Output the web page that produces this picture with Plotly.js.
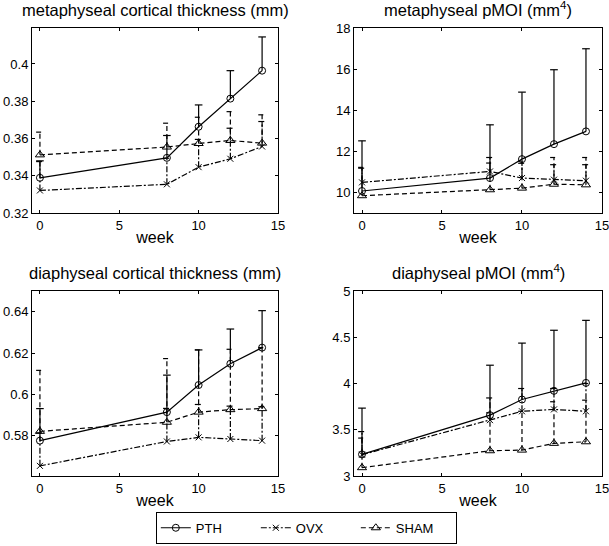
<!DOCTYPE html>
<html>
<head>
<meta charset="utf-8">
<script src="https://cdn.plot.ly/plotly-3.0.1.min.js"></script>
<style>html,body{margin:0;padding:0;background:#fff;}#chart{width:609px;height:546px;}</style>
</head>
<body>
<div id="chart"></div>
<script>
// ---- data ----
const weeks = [0, 8, 10, 12, 14];
const groups = ["PTH", "OVX", "SHAM"];

// metaphyseal cortical thickness (mm)
const mctPTH = [0.3389, 0.3496, 0.3663, 0.3814, 0.3964];
const mctPTHerr = [0.0091, 0.0120, 0.0117, 0.0150, 0.0181];
const mctOVX = [0.3321, 0.3354, 0.3446, 0.3491, 0.3557];
const mctOVXerr = [0.0155, 0.0140, 0.0149, 0.0164, 0.0134];
const mctSHAM = [0.3512, 0.3554, 0.3573, 0.3589, 0.3575];
const mctSHAMerr = [0.0122, 0.0128, 0.0141, 0.0155, 0.0152];

// metaphyseal pMOI (mm^4)
const mpPTH = [10.07, 10.70, 11.62, 12.35, 12.97];
const mpPTHerr = [2.44, 2.59, 3.26, 3.62, 4.02];
const mpOVX = [10.49, 11.02, 10.70, 10.62, 10.57];
const mpOVXerr = [0.69, 0.68, 0.72, 0.73, 0.78];
const mpSHAM = [9.84, 10.13, 10.21, 10.40, 10.37];
const mpSHAMerr = [1.38, 1.30, 1.32, 1.30, 1.33];

// diaphyseal cortical thickness (mm)
const dctPTH = [0.5776, 0.5914, 0.6045, 0.6148, 0.6226];
const dctPTHerr = [0.0155, 0.0179, 0.0170, 0.0168, 0.0179];
const dctOVX = [0.5654, 0.5772, 0.5792, 0.5784, 0.5776];
const dctOVXerr = [0.0160, 0.0160, 0.0159, 0.0159, 0.0164];
const dctSHAM = [0.5821, 0.5865, 0.5914, 0.5926, 0.5931];
const dctSHAMerr = [0.0295, 0.0308, 0.0301, 0.0292, 0.0295];

// diaphyseal pMOI (mm^4)
const dpPTH = [3.234, 3.658, 3.827, 3.921, 4.007];
const dpPTHerr = [0.50, 0.54, 0.61, 0.655, 0.676];
const dpOVX = [3.23, 3.604, 3.70, 3.72, 3.70];
const dpOVXerr = [0.25, 0.24, 0.246, 0.226, 0.30];
const dpSHAM = [3.09, 3.273, 3.28, 3.353, 3.37];
const dpSHAMerr = [0.32, 0.41, 0.42, 0.45, 0.45];

const titles = ["metaphyseal cortical thickness (mm)", "metaphyseal pMOI (mm<sup>4</sup>)",
                "diaphyseal cortical thickness (mm)", "diaphyseal pMOI (mm<sup>4</sup>)"];
const xTickVals = [0, 5, 10, 15];
const yTicksA = [0.32, 0.34, 0.36, 0.38, 0.4];
const yTextA = ["0.32", "0.34", "0.36", "0.38", "0.4"];
const yTicksB = [10, 12, 14, 16, 18];
const yTextB = ["10", "12", "14", "16", "18"];
const yTicksC = [0.58, 0.6, 0.62, 0.64];
const yTextC = ["0.58", "0.6", "0.62", "0.64"];
const yTicksD = [3, 3.5, 4, 4.5, 5];
const yTextD = ["3", "3.5", "4", "4.5", "5"];

// ---- styling ----
const W = 609, H = 546;
const FONT = "Liberation Sans, Arial, Helvetica, sans-serif";
const styles = {
  PTH:  {dash: "solid", symbol: "circle-open", size: 7},
  OVX:  {dash: "6px,2px,2px,2px", symbol: "x-thin-open", size: 6},
  SHAM: {dash: "5px,3px", symbol: "triangle-up-open", size: 8}
};
const CAP = 0.24;

const panels = [
  {series: {PTH: [mctPTH, mctPTHerr], OVX: [mctOVX, mctOVXerr], SHAM: [mctSHAM, mctSHAMerr]},
   yr: [0.32, 0.4193], tv: yTicksA, tt: yTextA, px: [32, 278], py: [28, 213]},
  {series: {PTH: [mpPTH, mpPTHerr], OVX: [mpOVX, mpOVXerr], SHAM: [mpSHAM, mpSHAMerr]},
   yr: [9, 18], tv: yTicksB, tt: yTextB, px: [354, 602], py: [28, 213]},
  {series: {PTH: [dctPTH, dctPTHerr], OVX: [dctOVX, dctOVXerr], SHAM: [dctSHAM, dctSHAMerr]},
   yr: [0.5605, 0.65], tv: yTicksC, tt: yTextC, px: [32, 278], py: [291, 476]},
  {series: {PTH: [dpPTH, dpPTHerr], OVX: [dpOVX, dpOVXerr], SHAM: [dpSHAM, dpSHAMerr]},
   yr: [3, 5.0005], tv: yTicksD, tt: yTextD, px: [354, 602], py: [291, 476]}
];

const traces = [];
const layout = {
  width: W, height: H,
  margin: {l: 0, r: 0, t: 0, b: 0},
  paper_bgcolor: "#fff", plot_bgcolor: "#fff",
  font: {family: FONT, size: 13, color: "#000"},
  showlegend: true,
  legend: {
    orientation: "h", x: 0.503, xanchor: "center", y: 0.004, yanchor: "bottom",
    bordercolor: "#000", borderwidth: 1, bgcolor: "#fff",
    font: {family: FONT, size: 13, color: "#000"},
    entrywidth: 55, entrywidthmode: "pixels", tracegroupgap: 0
  },
  annotations: []
};

panels.forEach((p, i) => {
  const k = i === 0 ? "" : String(i + 1);
  const xa = "x" + k, ya = "y" + k;
  layout["xaxis" + k] = {
    domain: [p.px[0] / W, p.px[1] / W], anchor: ya, range: [-0.5, 15.002],
    tickvals: xTickVals, ticktext: xTickVals.map(String),
    ticks: "inside", ticklen: 3, tickwidth: 1, tickcolor: "#000",
    showline: true, linecolor: "#000", linewidth: 1, mirror: "ticks",
    showgrid: false, zeroline: false, automargin: false, ticklabeloverflow: "allow",
    tickfont: {family: FONT, size: 13, color: "#000"},
    title: {text: "week", font: {family: FONT, size: 16, color: "#000"}, standoff: 0}
  };
  layout["yaxis" + k] = {
    domain: [1 - p.py[1] / H, 1 - p.py[0] / H], anchor: xa, range: p.yr,
    tickvals: p.tv, ticktext: p.tt,
    ticks: "inside", ticklen: 3, tickwidth: 1, tickcolor: "#000",
    showline: true, linecolor: "#000", linewidth: 1, mirror: "ticks",
    showgrid: false, zeroline: false, automargin: false, ticklabeloverflow: "allow",
    tickfont: {family: FONT, size: 13, color: "#000"}
  };
  layout.annotations.push({
    text: titles[i], xref: "paper", yref: "paper",
    x: (p.px[0] + p.px[1]) / 2 / W, y: 1 - (p.py[0] - 7) / H,
    xanchor: "center", yanchor: "bottom", showarrow: false,
    font: {family: FONT, size: 16.5, color: "#000"}
  });

  groups.forEach(g => {
    const [vals, errs] = p.series[g];
    const st = styles[g];
    // error bars (upper only), built from the data arrays
    const ex = [], ey = [];
    weeks.forEach((w, j) => {
      const top = vals[j] + errs[j];
      ex.push(w, w, null, w - CAP, w + CAP, null);
      ey.push(vals[j], top, null, top, top, null);
    });
    traces.push({
      x: ex, y: ey, xaxis: xa, yaxis: ya, mode: "lines", type: "scatter",
      line: {color: "#000", width: 1.2, dash: st.dash},
      showlegend: false, hoverinfo: "skip", legendgroup: g, connectgaps: false
    });
    traces.push({
      x: weeks, y: vals, xaxis: xa, yaxis: ya, mode: "lines+markers", type: "scatter",
      name: g, legendgroup: g, showlegend: i === 0,
      line: {color: "#000", width: 1.2, dash: st.dash},
      marker: {symbol: st.symbol, size: st.size, color: "#000", line: {color: "#000", width: 1}}
    });
  });
});

Plotly.newPlot("chart", traces, layout, {displayModeBar: false, staticPlot: true});
</script>
</body>
</html>
